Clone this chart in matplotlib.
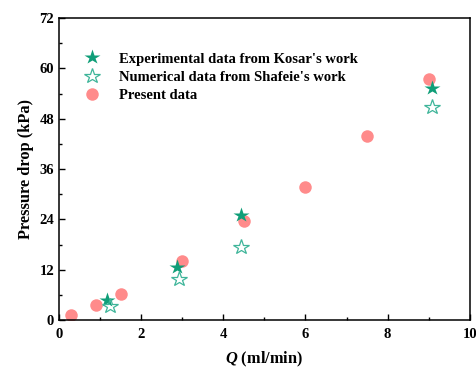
import matplotlib
matplotlib.use("Agg")
import matplotlib.pyplot as plt
from matplotlib.ticker import MultipleLocator

plt.rcParams['font.family'] = ['Liberation Serif', 'DejaVu Serif']
plt.rcParams['font.weight'] = 'bold'
plt.rcParams['mathtext.fontset'] = 'custom'
plt.rcParams['mathtext.it'] = 'Liberation Serif:italic:bold'
plt.rcParams['mathtext.rm'] = 'Liberation Serif:bold'

kosar_q = [1.18, 2.88, 4.42, 9.08]
kosar_dp = [4.8, 12.6, 25.1, 55.3]
shafeie_q = [1.23, 2.91, 4.42, 9.08]
shafeie_dp = [3.3, 9.9, 17.5, 50.8]
present_q = [0.3, 0.9, 1.5, 3.0, 4.5, 6.0, 7.5, 9.0]
present_dp = [1.2, 3.5, 6.2, 14.2, 23.7, 31.7, 44.0, 57.6]

labels = ["Experimental data from Kosar's work",
          "Numerical data from Shafeie's work",
          "Present data"]

fig = plt.figure(figsize=(4.76, 3.70), dpi=100)
ax = fig.add_axes([0.124, 0.135, 0.863, 0.816])

ax.plot(present_q, present_dp, 'o', ms=9, color='#ff7f7f', alpha=0.9,
        mec='none', label=labels[2], zorder=2)
ax.plot(kosar_q, kosar_dp, '*', ms=11.5, color='#0f9e78', mec='none',
        label=labels[0], zorder=3)
ax.plot(shafeie_q, shafeie_dp, '*', ms=11.5, mfc='none', mec='#3fb59a',
        mew=0.9, label=labels[1], zorder=3)

ax.set_xlim(0, 10)
ax.set_ylim(0, 72)
ax.xaxis.set_major_locator(MultipleLocator(2))
ax.xaxis.set_minor_locator(MultipleLocator(1))
ax.yaxis.set_major_locator(MultipleLocator(12))
ax.yaxis.set_minor_locator(MultipleLocator(6))
ax.tick_params(which='both', direction='in', top=False, right=False,
               labelsize=10.5, width=1.0)
ax.tick_params(which='major', length=4)
ax.tick_params(axis='x', which='major', pad=6)
ax.tick_params(which='minor', length=2.5)
for s in ax.spines.values():
    s.set_linewidth(1.1)

ax.set_xlabel(r'$Q$ (ml/min)', fontsize=11.8, fontweight='bold', labelpad=6)
ax.set_ylabel('Pressure drop (kPa)', fontsize=11.8, fontweight='bold')

h, l = ax.get_legend_handles_labels()
order = [1, 2, 0]
ax.legend([h[i] for i in order], [l[i] for i in order], loc='upper left',
          bbox_to_anchor=(0.012, 0.93), frameon=False,
          handletextpad=0.86, labelspacing=0.35, borderaxespad=0.5,
          prop={'weight': 'bold', 'size': 10.5})

fig.savefig('out.png', dpi=100)
